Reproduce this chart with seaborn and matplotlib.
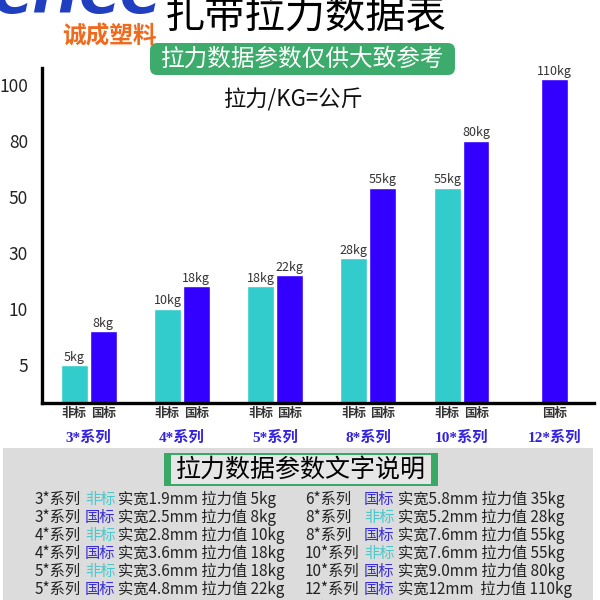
import numpy as np
import pandas as pd
import matplotlib
matplotlib.use('Agg')
import matplotlib.pyplot as plt
from matplotlib.patches import Rectangle, FancyBboxPatch
import seaborn as sns

# chart data
series = ['3*系列', '4*系列', '5*系列', '8*系列', '10*系列', '12*系列']
feibiao = [5, 10, 18, 28, 55, None]     # 非标
guobiao = [8, 18, 22, 55, 80, 110]      # 国标
kinds = ['非标', '国标']
y_ticks = [5, 10, 30, 50, 80, 100]

# text table under the chart
left_rows = [
    ('3*系列', '非标', '实宽1.9mm 拉力值 5kg'),
    ('3*系列', '国标', '实宽2.5mm 拉力值 8kg'),
    ('4*系列', '非标', '实宽2.8mm 拉力值 10kg'),
    ('4*系列', '国标', '实宽3.6mm 拉力值 18kg'),
    ('5*系列', '非标', '实宽3.6mm 拉力值 18kg'),
    ('5*系列', '国标', '实宽4.8mm 拉力值 22kg'),
]
right_rows = [
    ('6*系列', '国标', '实宽5.8mm 拉力值 35kg'),
    ('8*系列', '非标', '实宽5.2mm 拉力值 28kg'),
    ('8*系列', '国标', '实宽7.6mm 拉力值 55kg'),
    ('10*系列', '非标', '实宽7.6mm 拉力值 55kg'),
    ('10*系列', '国标', '实宽9.0mm 拉力值 80kg'),
    ('12*系列', '国标', '实宽12mm  拉力值 110kg'),
]

sns.set_style('white')
plt.rcParams['font.family'] = ['Noto Sans CJK SC', 'DejaVu Sans']

bar_colors = {'非标': '#33cccc', '国标': '#3300ff'}
text_colors = {'非标': '#4cc8cc', '国标': '#3a2ed6'}

rows = []
for s, f, g in zip(series, feibiao, guobiao):
    if f is not None:
        rows.append({'系列': s, '类型': '非标', '拉力': f})
    rows.append({'系列': s, '类型': '国标', '拉力': g})
df = pd.DataFrame(rows)

fig = plt.figure(figsize=(6, 6), dpi=100)


def px(x, y):
    # pixel position (from top-left) -> figure fraction
    return x / 600, 1 - y / 600


ax = fig.add_axes([42 / 600, 1 - 403 / 600, 552 / 600, 335 / 600])
sns.barplot(data=df, x='系列', y='拉力', hue='类型', hue_order=kinds,
            order=series, palette=bar_colors, width=0.62, gap=0.07,
            saturation=1, legend=False, ax=ax)

# bars of a series with only one type sit in the middle of the group
for i, f in enumerate(feibiao):
    if f is None:
        bar = ax.containers[1][i]
        bar.set_x(i - bar.get_width() / 2)

# uneven value axis: every tick one equal step
knots_v = [0] + y_ticks + [200]
knots_p = list(range(len(knots_v)))
ax.set_yscale('function', functions=(lambda v: np.interp(v, knots_v, knots_p),
                                     lambda p: np.interp(p, knots_p, knots_v)))
ax.set_ylim(1.6, 130)
ax.set_yticks(y_ticks)
ax.set_yticklabels([str(t) for t in y_ticks], fontsize=12.5, color='#222222')
ax.set_xlim(-0.5, 5.42)

for kind, cont in zip(kinds, ax.containers):
    ax.bar_label(cont, labels=[f'{int(v)}kg' for v in cont.datavalues],
                 padding=1, fontsize=9, color='#333333')

# x tick labels under each bar, separators between groups
tick_pos, tick_lab = [], []
for kind, cont in zip(kinds, ax.containers):
    for b in cont:
        tick_pos.append(b.get_x() + b.get_width() / 2)
        tick_lab.append(kind)
ax.set_xticks(tick_pos)
ax.set_xticklabels(tick_lab, fontsize=9, color='#333333', fontweight='bold')
ax.set_xticks([0.5, 1.5, 2.5, 3.5, 4.5, 5.26], minor=True)
ax.tick_params(axis='x', which='major', length=0, pad=3)
ax.tick_params(axis='x', which='minor', length=7, width=3, direction='out',
               color='black')
ax.tick_params(axis='y', length=8, width=3, direction='out', color='black',
               pad=2)
ax.set_xlabel('')
ax.set_ylabel('')

for side in ['top', 'right']:
    ax.spines[side].set_visible(False)
for side in ['left', 'bottom']:
    ax.spines[side].set_linewidth(2.4)
    ax.spines[side].set_color('black')

for i, s in enumerate(series):
    ax.annotate(s, xy=(i, 0), xycoords=('data', 'axes fraction'),
                xytext=(0, -25), textcoords='offset points',
                ha='center', va='center', fontsize=11, fontweight='bold',
                color='#3322dd', family=['Liberation Serif', 'Noto Sans CJK SC'])

# header
fig.text(*px(-8, 12), 'CHCC', fontsize=40, fontweight='bold', style='italic',
         color='#1f3fc0', family=['DejaVu Sans'], ha='left', va='baseline')
fig.text(*px(109, 37), '诚成塑料', fontsize=17, fontweight='bold',
         color='#f06a1e', ha='center', va='center')
fig.text(*px(306, 16), '扎带拉力数据表', fontsize=29, color='black',
         ha='center', va='center')

pill = FancyBboxPatch(px(150, 75), 305 / 600, 32 / 600,
                      boxstyle='round,pad=0,rounding_size=0.012',
                      transform=fig.transFigure, fc='#3dab6b', ec='none')
fig.patches.append(pill)
fig.text(*px(303, 59), '拉力数据参数仅供大致参考', fontsize=17, color='white',
         ha='center', va='center')
fig.text(*px(293, 100), '拉力/KG=公斤', fontsize=16, color='#111111',
         ha='center', va='center')

# bottom panel
fig.patches.append(Rectangle(px(3, 600), 590 / 600, 152 / 600,
                             transform=fig.transFigure, fc='#dcdcdc',
                             ec='none', zorder=0))
fig.patches.append(Rectangle(px(164, 486), 274 / 600, 33 / 600,
                             transform=fig.transFigure, fc='#3aa867',
                             ec='none', zorder=1))
fig.patches.append(Rectangle(px(171, 484), 260 / 600, 29 / 600,
                             transform=fig.transFigure, fc='#e6e6e6',
                             ec='none', zorder=2))
fig.text(*px(301, 470), '拉力数据参数文字说明', fontsize=18, color='black',
         ha='center', va='center', zorder=3)

row_y = [499, 517, 535, 553, 571, 589]
for rows_, xs in [(left_rows, (35, 85, 118)), (right_rows, (305, 364, 398))]:
    for (s, k, rest), y in zip(rows_, row_y):
        fig.text(*px(xs[0], y), s, fontsize=11, color='#222222', va='center')
        fig.text(*px(xs[1], y), k, fontsize=11, color=text_colors[k], va='center')
        fig.text(*px(xs[2], y), rest, fontsize=11, color='#222222', va='center')

fig.savefig('out.png', dpi=100)
